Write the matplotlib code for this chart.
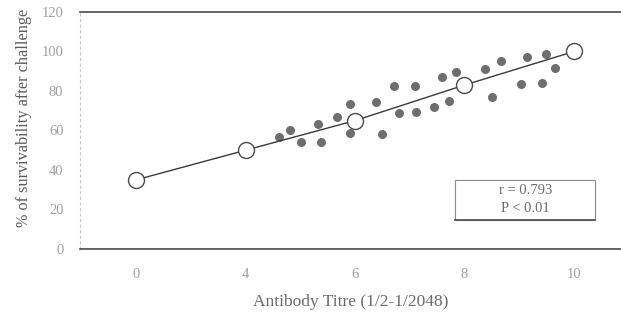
import numpy as np
import matplotlib.pyplot as plt
from matplotlib.patches import Rectangle

plt.rcParams['font.family'] = ['Liberation Serif', 'DejaVu Serif']

# Mean survivability at each titre (open circles)
titre_ticks = [0, 4, 6, 8, 10]
mean_surv = [35, 50, 65, 83, 100]

# Individual observations (filled dots)
dot_titre = [4.62, 4.82, 5.02, 5.33, 5.38, 5.67, 5.91, 5.91, 6.38, 6.49,
             6.72, 6.81, 7.09, 7.12, 7.45, 7.59, 7.72, 7.85, 8.37, 8.50,
             8.66, 9.04, 9.15, 9.42, 9.49, 9.66]
dot_surv = [56.7, 60.3, 54.2, 63.3, 54.2, 66.8, 73.4, 58.7, 74.4, 58.2,
            82.5, 68.9, 82.5, 69.4, 71.9, 87.1, 74.9, 89.6, 91.1, 77.0,
            95.2, 83.5, 97.2, 84.1, 98.7, 91.6]

y_ticks = [0, 20, 40, 60, 80, 100, 120]

# titres sit on an evenly spaced category axis
tick_pos = np.arange(len(titre_ticks))
dot_pos = np.interp(dot_titre, titre_ticks, tick_pos)

fig = plt.figure(figsize=(6.21, 3.24), dpi=100)
ax = fig.add_axes([0.129, 0.2315, 0.871, 0.7315])

ax.scatter(dot_pos, dot_surv, s=30, color='#6e6e6e', zorder=2)
ax.plot(tick_pos, mean_surv, color='#3a3a3a', lw=1.0, zorder=3,
        marker='o', ms=11.5, mfc='white', mec='#4a4a4a', mew=1.0)

ax.set_xlim(-0.511, 4.43)
ax.set_ylim(0, 120)
ax.set_xticks(tick_pos)
ax.set_xticklabels(titre_ticks)
ax.set_yticks(y_ticks)

ax.tick_params(axis='both', length=0, labelsize=10.5, colors='#a0a0a0')
ax.tick_params(axis='x', pad=14)
ax.tick_params(axis='y', pad=12)

ax.spines['right'].set_visible(False)
ax.spines['left'].set_color('#c8c8c8')
ax.spines['left'].set_linestyle((0, (2, 3)))
ax.spines['left'].set_linewidth(0.8)
ax.spines['top'].set_color('#4a4a4a')
ax.spines['top'].set_linewidth(1.2)
ax.spines['bottom'].set_color('#4a4a4a')
ax.spines['bottom'].set_linewidth(1.2)

ax.set_xlabel('Antibody Titre (1/2-1/2048)', fontsize=12.5, color='#6a6a6a',
              labelpad=9)
ax.set_ylabel('% of survivability after challenge', fontsize=11.7,
              color='#5a5a5a')
ax.yaxis.set_label_coords(-0.089, 0.553)

# statistics box
ax.add_patch(Rectangle((0.693, 0.122), 0.259, 0.169, transform=ax.transAxes,
                       fc='white', ec='#8a8a8a', lw=0.8, zorder=4))
ax.plot([0.693, 0.952], [0.122, 0.122], transform=ax.transAxes,
        color='#555555', lw=1.3, zorder=5)
ax.text(0.823, 0.248, 'r = 0.793', transform=ax.transAxes, ha='center',
        va='center', fontsize=10.5, color='#6a6a6a', zorder=6)
ax.text(0.823, 0.17, 'P < 0.01', transform=ax.transAxes, ha='center',
        va='center', fontsize=10.5, color='#6a6a6a', zorder=6)

fig.savefig('out.png', dpi=100)
